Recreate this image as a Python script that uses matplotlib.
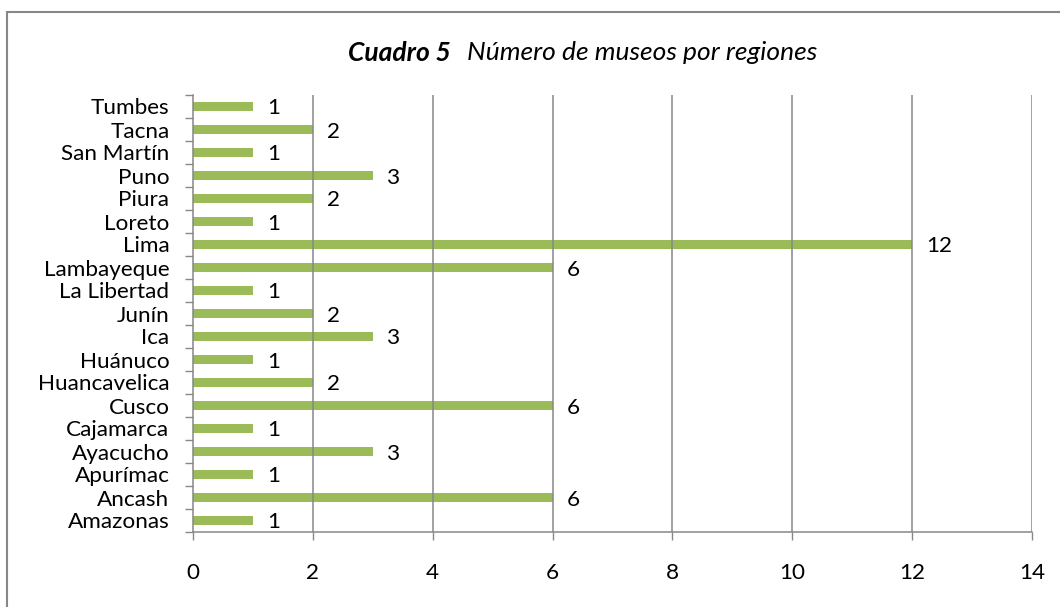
import matplotlib.pyplot as plt
from matplotlib.patches import Rectangle

regiones = [
    "Amazonas", "Ancash", "Apurímac", "Ayacucho", "Cajamarca", "Cusco",
    "Huancavelica", "Huánuco", "Ica", "Junín", "La Libertad", "Lambayeque",
    "Lima", "Loreto", "Piura", "Puno", "San Martín", "Tacna", "Tumbes",
]
museos = [1, 6, 1, 3, 1, 6, 2, 1, 3, 2, 1, 6, 12, 1, 2, 3, 1, 2, 1]
x_ticks = [0, 2, 4, 6, 8, 10, 12, 14]

plt.rcParams["font.family"] = ["Lato", "DejaVu Sans"]

W, H = 1060, 607
fig = plt.figure(figsize=(W / 100, H / 100), dpi=100)
ax = fig.add_axes([193 / W, 1 - 532 / H, (1032 - 193) / W, (532 - 95) / H])

grey = "#878787"
bar_col = "#9BBB59"
fs = 16.2

ypos = list(range(len(regiones)))
ax.barh(ypos, museos, height=0.4, color=bar_col, zorder=2)
for y, v in zip(ypos, museos):
    ax.annotate(str(v), (v, y), xytext=(14, -2), textcoords="offset pixels",
                ha="left", va="center", fontsize=fs)

ax.set_xlim(0, 14)
ax.set_ylim(-0.5, len(regiones) - 0.5)
ax.set_xticks(x_ticks)
ax.set_xticklabels([str(t) for t in x_ticks], fontsize=fs)
ax.set_yticks(ypos)
ax.set_yticklabels(regiones, fontsize=fs)
ax.set_yticks([i - 0.5 for i in range(len(regiones) + 1)], minor=True)

ax.tick_params(axis="y", which="major", length=0, pad=17)
ax.tick_params(axis="y", which="minor", length=6, width=1, color=grey, direction="out")
ax.tick_params(axis="x", which="major", length=6, width=1, color=grey, direction="out", pad=16)

for t in x_ticks[1:]:
    ax.axvline(t, color=grey, lw=1.1, zorder=3)

for s in ["top", "right"]:
    ax.spines[s].set_visible(False)
for s in ["left", "bottom"]:
    ax.spines[s].set_color(grey)
    ax.spines[s].set_linewidth(1.1)
    ax.spines[s].set_zorder(3)

# title: bold-italic part then italic part, centred as a whole
ty = 1 - 53 / H
t1 = fig.text(0, ty, "Cuadro 5", ha="left", va="center",
              fontsize=19, fontweight="bold", fontstyle="italic")
t2 = fig.text(0, ty, "Número de museos por regiones", ha="left", va="center",
              fontsize=19, fontstyle="italic")
fig.canvas.draw()
w1 = t1.get_window_extent().width
w2 = t2.get_window_extent().width
gap = 16
x0 = 583 - (w1 + gap + w2) / 2
t1.set_x(x0 / W)
t2.set_x((x0 + w1 + gap) / W)

fig.patches.append(Rectangle((7 / W, -0.1), 1.2, 1 - 12 / H + 0.1,
                             transform=fig.transFigure, fill=False,
                             edgecolor=grey, lw=1.5, figure=fig))

fig.savefig("out.png", dpi=100)
